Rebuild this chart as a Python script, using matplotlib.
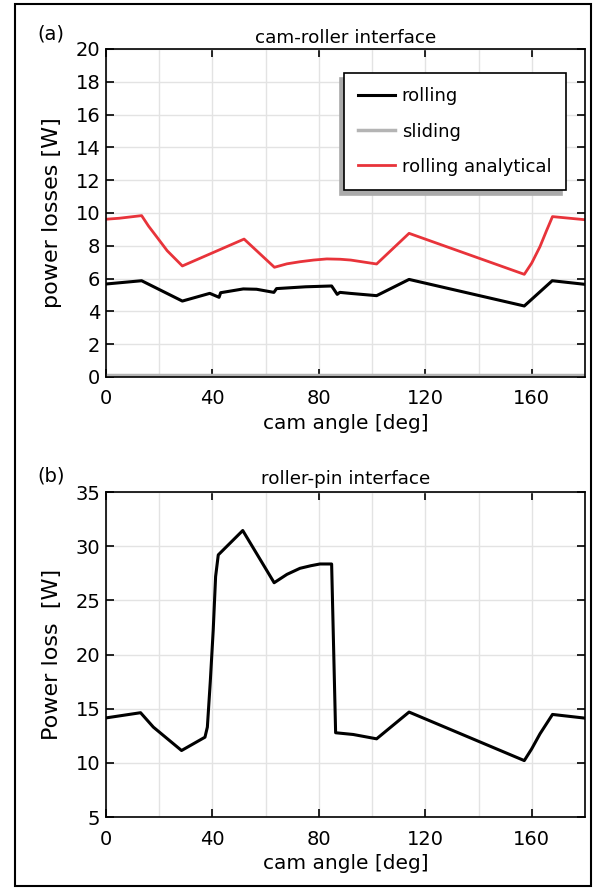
import matplotlib
matplotlib.use("Agg")
import matplotlib.pyplot as plt
from matplotlib import font_manager
from matplotlib.patches import Rectangle
from matplotlib.ticker import MultipleLocator

# (a) cam-roller interface
angle_roll = [0, 13.4, 28.7, 39, 42.5, 43.1, 51.6, 56.6, 63.1, 64.1, 75, 84.8,
              86.9, 87.9, 91.7, 101.7, 113.9, 157.2, 167.7, 180]
roll = [5.67, 5.87, 4.63, 5.1, 4.86, 5.14, 5.37, 5.35, 5.16, 5.39, 5.5, 5.55,
        5.04, 5.16, 5.1, 4.96, 5.95, 4.33, 5.87, 5.65]

angle_slide = [0, 180]
slide = [0.1, 0.1]

angle_ana = [0, 5, 13.4, 16, 19, 23, 28.7, 51.9, 63.3, 68, 73, 78, 83, 88, 92,
             101.7, 113.9, 157.2, 160, 163.1, 165.5, 167.8, 180]
ana = [9.62, 9.68, 9.84, 9.2, 8.56, 7.7, 6.77, 8.41, 6.69, 6.9, 7.03, 7.13,
       7.2, 7.18, 7.13, 6.89, 8.76, 6.26, 6.95, 7.95, 8.9, 9.78, 9.59]

# (b) roller-pin interface
angle_pin = [0, 13, 17.8, 28.4, 37.2, 38.1, 39.2, 40.3, 41.2, 42.2, 51.4, 63.2,
             68, 72.9, 77, 80.4, 84.8, 86.3, 92.9, 101.7, 113.9, 157.2, 160,
             163.1, 167.8, 180]
pin = [14.15, 14.63, 13.3, 11.14, 12.37, 13.3, 17.5, 22.25, 27.2, 29.2, 31.45,
       26.63, 27.4, 27.96, 28.2, 28.36, 28.36, 12.78, 12.62, 12.22, 14.69,
       10.21, 11.3, 12.68, 14.47, 14.13]

plt.rcParams["font.family"] = "DejaVu Sans"

# narrow face for ticks/titles if one is installed
installed = {f.name for f in font_manager.fontManager.ttflist}
if "Liberation Sans Narrow" in installed:
    narrow = {"family": "Liberation Sans Narrow", "size": 16.5}
    title_font = dict(narrow)
else:
    narrow = {"family": "DejaVu Sans", "size": 14}
    title_font = {"family": "DejaVu Sans", "size": 13.2}

fig = plt.figure(figsize=(6.08, 8.94), dpi=100)
ax1 = fig.add_axes([0.1743, 0.5783, 0.7878, 0.3669])
ax2 = fig.add_axes([0.1743, 0.0861, 0.7878, 0.3635])


def style(ax, ystep):
    ax.set_xlim(0, 180)
    ax.xaxis.set_major_locator(MultipleLocator(40))
    ax.xaxis.set_minor_locator(MultipleLocator(20))
    ax.yaxis.set_major_locator(MultipleLocator(ystep))
    ax.grid(True, which="both", axis="x", color="#e3e3e3", lw=1.0)
    ax.grid(True, which="major", axis="y", color="#e3e3e3", lw=1.0)
    ax.set_axisbelow(True)
    ax.tick_params(which="major", direction="in", top=True, right=True,
                   length=6, width=1.2)
    ax.tick_params(axis="x", pad=9)
    ax.tick_params(axis="y", pad=4)
    ax.tick_params(which="minor", length=0)
    for lab in ax.get_xticklabels() + ax.get_yticklabels():
        lab.set_fontproperties(narrow)
    for s in ax.spines.values():
        s.set_linewidth(1.2)
    ax.set_xlabel("cam angle [deg]", fontdict={**narrow, "size": narrow["size"] + 0.5},
                  labelpad=4)


ax1.plot(angle_roll, roll, color="black", lw=2.2, label="rolling")
ax1.plot(angle_slide, slide, color="#b4b4b4", lw=2.5, label="sliding")
ax1.plot(angle_ana, ana, color="#e8333a", lw=2.0, label="rolling analytical")
ax1.set_ylim(0, 20)
style(ax1, 2)
ax1.set_ylabel("power losses [W]", fontsize=16, labelpad=10)
ax1.set_title("cam-roller interface", fontdict=title_font, pad=4)
ax1.text(-0.144, 1.045, "(a)", transform=ax1.transAxes, fontdict=narrow,
         ha="left", va="center")
leg = ax1.legend(loc="upper right", bbox_to_anchor=(0.960, 0.927),
                 borderaxespad=0, fontsize=13, frameon=True, fancybox=False,
                 edgecolor="black", handlelength=2.0, handletextpad=0.4,
                 labelspacing=0.95, borderpad=0.8,
                 shadow={"ox": -3, "oy": -3.5, "color": "#aaaaaa", "alpha": 1})
leg.get_frame().set_linewidth(1.2)

ax2.plot(angle_pin, pin, color="black", lw=2.2)
ax2.set_ylim(5, 35)
style(ax2, 5)
ax2.set_ylabel("Power loss  [W]", fontsize=16, labelpad=10)
ax2.set_title("roller-pin interface", fontdict=title_font, pad=6)
ax2.text(-0.144, 1.05, "(b)", transform=ax2.transAxes, fontdict=narrow,
         ha="left", va="center")

fig.add_artist(Rectangle((15 / 608, 8 / 894), 576 / 608, 882 / 894,
                         transform=fig.transFigure, fill=False,
                         edgecolor="black", lw=1.5))

fig.savefig("out.png", dpi=100)
